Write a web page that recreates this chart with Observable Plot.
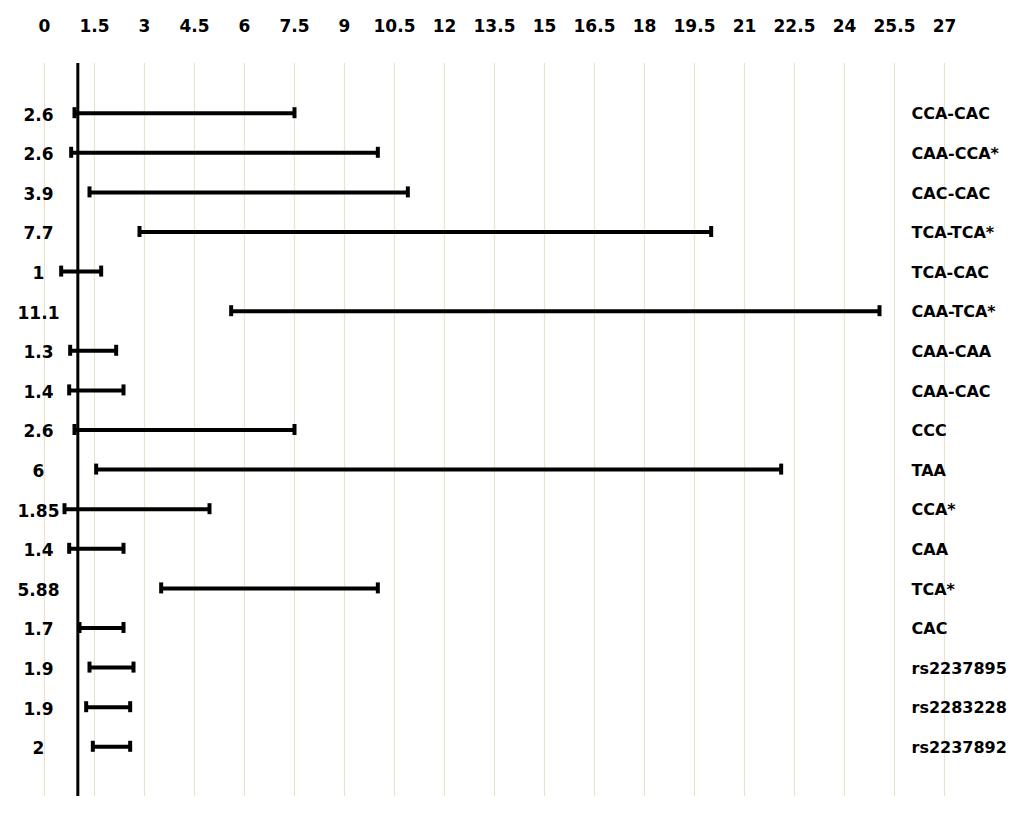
<!DOCTYPE html>
<html>
<head>
<meta charset="utf-8">
<script src="https://cdn.jsdelivr.net/npm/d3@7"></script>
<script src="https://cdn.jsdelivr.net/npm/@observablehq/plot@0.6"></script>
<style>
  html, body { margin: 0; padding: 0; background: #ffffff; }
  #chart svg { display: block; }
</style>
</head>
<body>
<div id="chart"></div>
<script>
const names = ["CCA-CAC", "CAA-CCA*", "CAC-CAC", "TCA-TCA*", "TCA-CAC", "CAA-TCA*", "CAA-CAA", "CAA-CAC", "CCC", "TAA", "CCA*", "CAA", "TCA*", "CAC", "rs2237895", "rs2283228", "rs2237892"];
const orLabels = ["2.6", "2.6", "3.9", "7.7", "1", "11.1", "1.3", "1.4", "2.6", "6", "1.85", "1.4", "5.88", "1.7", "1.9", "1.9", "2"];
const lower = [0.9, 0.8, 1.35, 2.85, 0.5, 5.6, 0.77, 0.74, 0.9, 1.55, 0.6, 0.74, 3.5, 1.05, 1.35, 1.25, 1.45];
const upper = [7.5, 10.0, 10.9, 20.0, 1.7, 25.05, 2.15, 2.37, 7.5, 22.1, 4.95, 2.37, 10.0, 2.37, 2.67, 2.57, 2.57];
const xTicks = [0, 1.5, 3, 4.5, 6, 7.5, 9, 10.5, 12, 13.5, 15, 16.5, 18, 19.5, 21, 22.5, 24, 25.5, 27];
const refValue = [1];

const rows = names.map((name, i) => ({name, or: orLabels[i], lo: lower[i], hi: upper[i]}));
const font = "'DejaVu Sans', sans-serif";

const chart = Plot.plot({
  width: 1024,
  height: 813,
  marginLeft: 44,
  marginRight: 80,
  marginTop: 63,
  marginBottom: 17,
  style: {fontFamily: font, background: "#ffffff"},
  x: {domain: [0, 27]},
  y: {type: "band", domain: names, paddingInner: 0, paddingOuter: 0.755, round: false, axis: null},
  marks: [
    Plot.ruleX(xTicks, {stroke: "#e8e3cf", strokeWidth: 1.2}),
    Plot.axisX(xTicks, {anchor: "top", tickSize: 0, tickPadding: 32, fontSize: 17, fontWeight: "bold", fill: "#000", tickFormat: d => String(d)}),
    Plot.ruleX(refValue, {stroke: "#000", strokeWidth: 3}),
    Plot.ruleY(rows, {y: "name", x1: "lo", x2: "hi", stroke: "#000", strokeWidth: 4}),
    Plot.tickX(rows, {x: "lo", y: "name", stroke: "#000", strokeWidth: 4, insetTop: 14.3, insetBottom: 14.3}),
    Plot.tickX(rows, {x: "hi", y: "name", stroke: "#000", strokeWidth: 4, insetTop: 14.3, insetBottom: 14.3}),
    Plot.text(rows, {y: "name", text: "or", frameAnchor: "left", dx: -6, dy: 2, textAnchor: "middle", fontSize: 17, fontWeight: "bold", fill: "#000"}),
    Plot.text(rows, {y: "name", text: "name", frameAnchor: "right", dx: -33, dy: 1, textAnchor: "start", fontSize: 16, fontWeight: "bold", fill: "#000"})
  ]
});
document.getElementById("chart").appendChild(chart);
</script>
</body>
</html>
